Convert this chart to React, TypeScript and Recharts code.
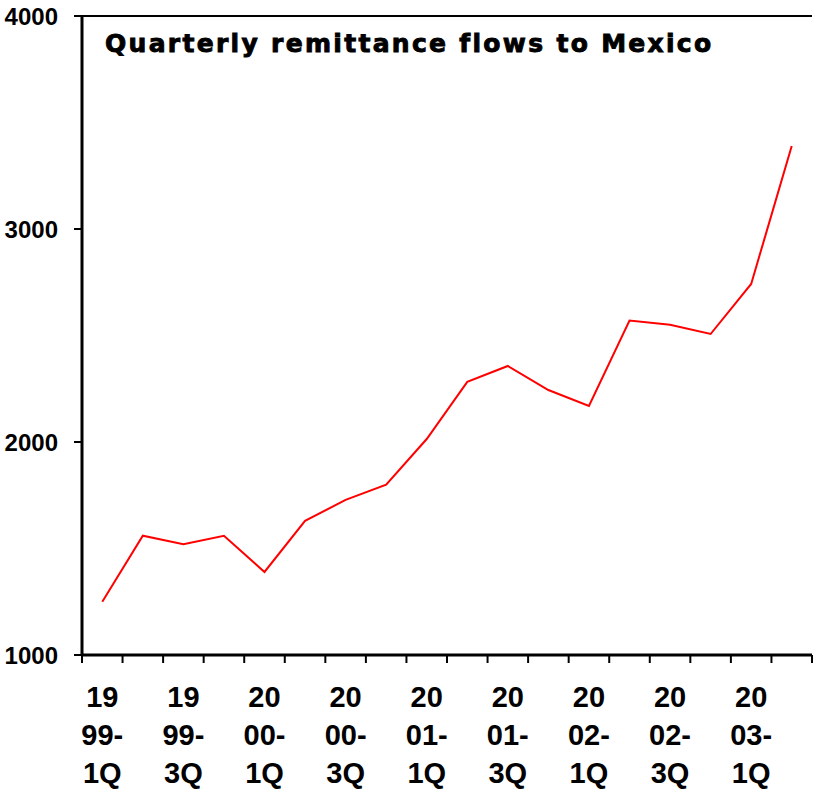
import { LineChart, Line, XAxis, YAxis, CartesianGrid } from "recharts";

const quarters = [
  "1999-1Q", "1999-2Q", "1999-3Q", "1999-4Q",
  "2000-1Q", "2000-2Q", "2000-3Q", "2000-4Q",
  "2001-1Q", "2001-2Q", "2001-3Q", "2001-4Q",
  "2002-1Q", "2002-2Q", "2002-3Q", "2002-4Q",
  "2003-1Q", "2003-2Q",
];

const remittances = [
  1250, 1560, 1520, 1560,
  1390, 1630, 1728, 1800,
  2014, 2282, 2357, 2244,
  2169, 2570, 2550, 2507,
  2742, 3390,
];

const yTicks = [1000, 2000, 3000, 4000];
const xTicks = quarters.map((_, i) => i).concat([quarters.length]);

const data = quarters.map((q, i) => ({ pos: i + 0.5, q, value: remittances[i] }));

const W = 815;
const H = 790;
const margin = { top: 16, right: 3, left: 0, bottom: 105 };
const plotLeft = 82;
const band = (W - plotLeft - margin.right) / quarters.length;

const FONT = "'Liberation Sans', Arial, sans-serif";

// labels sit under every other quarter, split over three lines like "19 / 99- / 1Q"
function QuarterTick(props: any) {
  const { x, payload } = props;
  const i = payload.value;
  if (i % 2 !== 0 || i >= quarters.length) return null;
  const q = quarters[i];
  const lines = [q.slice(0, 2), q.slice(2, 5), q.slice(5)];
  const cx = x + band / 2;
  const axisY = H - margin.bottom - 30;
  return (
    <g>
      {lines.map((t, k) => (
        <text
          key={k}
          x={cx}
          y={axisY + 52 + k * 38}
          textAnchor="middle"
          fontFamily={FONT}
          fontWeight="bold"
          fontSize={29}
          fill="#000"
        >
          {t}
        </text>
      ))}
    </g>
  );
}

export default function App() {
  return (
    <div style={{ position: "absolute", left: 0, top: 0, width: W, height: H, background: "#fff" }}>
      <LineChart width={W} height={H} data={data} margin={margin}>
        <CartesianGrid vertical={false} stroke="#000" strokeWidth={2} />
        <XAxis
          dataKey="pos"
          type="number"
          domain={[0, quarters.length]}
          ticks={xTicks}
          interval={0}
          height={30}
          tick={<QuarterTick />}
          tickSize={8}
          axisLine={{ stroke: "#000", strokeWidth: 3 }}
          tickLine={{ stroke: "#000", strokeWidth: 2 }}
        />
        <YAxis
          yAxisId="left"
          domain={[1000, 4000]}
          ticks={yTicks}
          width={plotLeft}
          tickSize={8}
          tickMargin={16}
          axisLine={{ stroke: "#000", strokeWidth: 3 }}
          tickLine={{ stroke: "#000", strokeWidth: 2 }}
          tick={{ fontFamily: FONT, fontWeight: "bold", fontSize: 24, fill: "#000" }}
        />
        <YAxis
          yAxisId="right"
          orientation="right"
          domain={[1000, 4000]}
          width={0}
          tick={false}
          tickLine={false}
          axisLine={{ stroke: "#000", strokeWidth: 3 }}
        />
        <Line
          yAxisId="left"
          type="linear"
          dataKey="value"
          stroke="#ff0000"
          strokeWidth={2}
          dot={false}
          isAnimationActive={false}
        />
        <text
          x={105}
          y={52}
          fontFamily="'DejaVu Sans', sans-serif"
          fontWeight="bold"
          fontSize={25}
          letterSpacing={2.3}
          stroke="#000"
          strokeWidth={0.9}
          fill="#000"
        >
          Quarterly remittance flows to Mexico
        </text>
      </LineChart>
    </div>
  );
}
